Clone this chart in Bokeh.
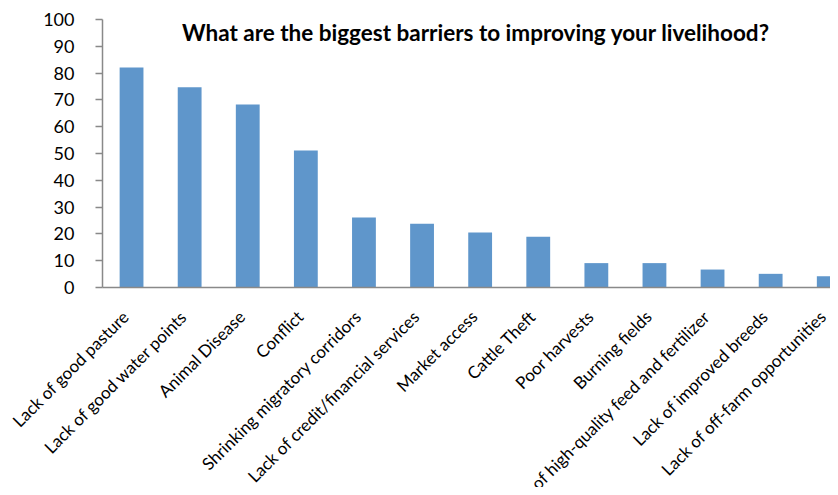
import math
from bokeh.plotting import figure
from bokeh.models import ColumnDataSource, Label, Range1d, FixedTicker
from bokeh.embed import file_html
from bokeh.resources import INLINE

categories = [
    "Lack of good pasture",
    "Lack of good water points",
    "Animal Disease",
    "Conflict",
    "Shrinking migratory corridors",
    "Lack of credit/financial services",
    "Market access",
    "Cattle Theft",
    "Poor harvests",
    "Burning fields",
    "Lack of high-quality feed and fertilizer",
    "Lack of improved breeds",
    "Lack of off-farm opportunities",
]
values = [82.1, 74.7, 68.3, 51.1, 26.1, 23.8, 20.5, 18.9, 9.1, 9.1, 6.7, 5.1, 4.2]
y_ticks = [0, 10, 20, 30, 40, 50, 60, 70, 80, 90, 100]
title_text = "What are the biggest barriers to improving your livelihood?"

FONT = "Lato"
BAR_COLOR = "#5F96CB"
AXIS_COLOR = "#898989"

idx = list(range(len(categories)))
src = ColumnDataSource(dict(x=idx, top=values))

W, H = 830, 487
px_x = 58.1           # pixels per category
px_y = 2.68           # pixels per value unit
left_px, top_px, base_px = 102, 19, 287
x0 = -0.5 - left_px / px_x
x1 = -0.5 + (W - left_px) / px_x
y1 = 100 + top_px / px_y
y0 = -(H - base_px) / px_y

p = figure(
    width=W, height=H,
    output_backend="svg", toolbar_location=None,
    x_range=Range1d(x0, x1), y_range=Range1d(y0, y1),
    min_border_left=0, min_border_right=0, min_border_top=0, min_border_bottom=0,
)
p.outline_line_color = None
p.xgrid.grid_line_color = None
p.ygrid.grid_line_color = None

p.vbar(x="x", top="top", width=0.41, source=src, fill_color=BAR_COLOR, line_color=None)

# y axis fixed at the left edge of the category area
yax = p.yaxis[0]
yax.fixed_location = -0.5
yax.bounds = (0, 100)
yax.ticker = FixedTicker(ticks=y_ticks)
yax.axis_line_color = AXIS_COLOR
yax.axis_line_width = 1.5
yax.major_tick_line_color = AXIS_COLOR
yax.major_tick_line_width = 1.5
yax.major_tick_out = 7
yax.major_tick_in = 0
yax.minor_tick_line_color = None
yax.major_label_text_font = FONT
yax.major_label_text_font_size = "18px"
yax.major_label_text_color = "#000000"
yax.major_label_standoff = 21

# x axis fixed at value 0; label anchors nudged so that the rotated
# labels end just at each category, as in the original
label_shift = 6 / px_x
label_pos = [i - label_shift for i in idx]
xax = p.xaxis[0]
xax.fixed_location = 0
xax.bounds = (-0.5, 12.5)
xax.ticker = FixedTicker(ticks=label_pos)
xax.major_label_overrides = {pos: c for pos, c in zip(label_pos, categories)}
xax.axis_line_color = AXIS_COLOR
xax.axis_line_width = 1.5
xax.major_tick_line_color = None
xax.minor_tick_line_color = None
xax.major_label_orientation = math.pi / 4
xax.major_label_text_font = FONT
xax.major_label_text_font_size = "17px"
xax.major_label_text_color = "#000000"
xax.major_label_standoff = 20

title = Label(
    x=-0.5 + (475.5 - left_px) / px_x, y=(base_px - 32) / px_y, text=title_text,
    text_align="center", text_baseline="middle",
    text_font=FONT, text_font_style="bold", text_font_size="22.5px", text_color="#000000",
)
p.add_layout(title)

open("out.html", "w").write(file_html(p, INLINE))
